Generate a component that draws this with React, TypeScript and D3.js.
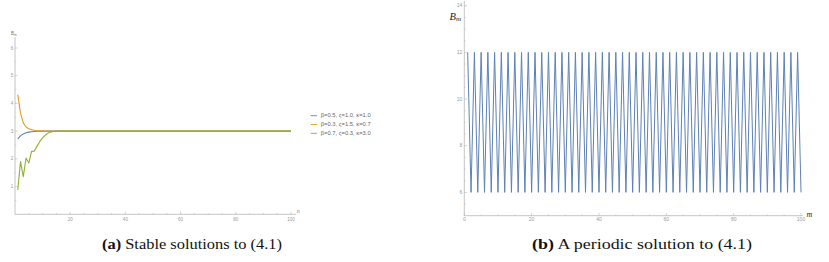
import React from "react";
import * as d3 from "d3";

// ---------- Data: panel (a) ----------
const nA = [1, 2, 3, 4, 5, 6, 7, 8, 9, 10, 11, 12, 13, 14, 15, 16, 18, 20, 100];
const blueA = [2.72, 2.83, 2.9, 2.94, 2.965, 2.98, 2.99, 2.995, 2.998, 3.0, 3.0, 3.0, 3.0, 3.0, 3.0, 3.0, 3.0, 3.0, 3.0];
const orangeA = [4.32, 3.65, 3.3, 3.15, 3.09, 3.055, 3.035, 3.022, 3.014, 3.009, 3.005, 3.003, 3.001, 3.0, 3.0, 3.0, 3.0, 3.0, 3.0];
const greenA = [0.88, 1.9, 1.36, 2.03, 1.85, 2.27, 2.28, 2.46, 2.63, 2.76, 2.86, 2.93, 2.97, 2.99, 3.0, 3.0, 3.0, 3.0, 3.0];
const legendLabels = ["β=0.5, ς=1.0, κ=1.0", "β=0.3, ς=1.5, κ=0.7", "β=0.7, ς=0.3, κ=3.0"];
const xTicksA = [20, 40, 60, 80, 100];
const yTicksA = [1, 2, 3, 4, 5, 6];

// ---------- Data: panel (b) ----------
const valuesB = [
  12, 6, 12, 6, 12, 6, 12, 6, 12, 6, 12, 6, 12, 6, 12, 6, 12, 6, 12, 6,
  12, 6, 12, 6, 12, 6, 12, 6, 12, 6, 12, 6, 12, 6, 12, 6, 12, 6, 12, 6,
  12, 6, 12, 6, 12, 6, 12, 6, 12, 6, 12, 6, 12, 6, 12, 6, 12, 6, 12, 6,
  12, 6, 12, 6, 12, 6, 12, 6, 12, 6, 12, 6, 12, 6, 12, 6, 12, 6, 12, 6,
  12, 6, 12, 6, 12, 6, 12, 6, 12, 6, 12, 6, 12, 6, 12, 6, 12, 6, 12, 6,
];
const xTicksB = [0, 20, 40, 60, 80, 100];
const yTicksB = [6, 8, 10, 12, 14];

const COLORS = ["#5E81B5", "#E19C24", "#8FB032"];
const AXIS = "#b5b5b5";
const LABEL = "#9a9a9a";
const SERIF = "'Liberation Serif', 'Times New Roman', serif";
const SANS = "'Liberation Sans', Arial, sans-serif";

export default function App() {
  // Panel (a) scales
  const xA = d3.scaleLinear().domain([0, 100]).range([15, 291]);
  const yA = d3.scaleLinear().domain([0, 6]).range([214.3, 48]);
  const lineA = (vals: number[]) =>
    d3.line<number>().x((_, i) => xA(nA[i])).y((v) => yA(v)).curve(d3.curveLinear)(vals) || "";
  const seriesA = [blueA, orangeA, greenA];
  const minorXA = d3.range(0, 101, 5).filter((v) => v % 20 !== 0);
  const minorYA = d3.range(0.5, 6.01, 0.5).filter((v) => v % 1 !== 0);

  // Panel (b) scales
  const xB = d3.scaleLinear().domain([0, 100]).range([464.3, 801]);
  const yB = d3.scaleLinear().domain([5, 14]).range([215.7, 5.7]);
  const lineB =
    d3.line<number>().x((_, i) => xB(i + 1)).y((v) => yB(v))(valuesB) || "";
  const minorXB = d3.range(0, 101, 5).filter((v) => v % 20 !== 0);
  const minorYB = d3.range(5.5, 14.01, 0.5).filter((v) => v % 2 !== 0);

  return (
    <svg
      width={829}
      height={262}
      style={{ position: "absolute", left: 0, top: 0, display: "block", background: "#fff" }}
    >
      {/* ---------- Panel (a) ---------- */}
      <g>
        <line x1={xA(0)} x2={296} y1={yA(0)} y2={yA(0)} stroke={AXIS} strokeWidth={0.8} />
        <line x1={xA(0)} x2={xA(0)} y1={yA(0)} y2={37} stroke={AXIS} strokeWidth={0.8} />
        {xTicksA.map((t) => (
          <g key={"xa" + t}>
            <line x1={xA(t)} x2={xA(t)} y1={yA(0)} y2={yA(0) - 2.5} stroke={AXIS} strokeWidth={0.6} />
            <text x={xA(t)} y={220.5} fontSize={4.6} fill={LABEL} textAnchor="middle" fontFamily={SANS}>
              {t}
            </text>
          </g>
        ))}
        {minorXA.map((t) => (
          <line key={"mxa" + t} x1={xA(t)} x2={xA(t)} y1={yA(0)} y2={yA(0) - 1.4} stroke={AXIS} strokeWidth={0.5} />
        ))}
        {yTicksA.map((t) => (
          <g key={"ya" + t}>
            <line x1={xA(0)} x2={xA(0) + 2.5} y1={yA(t)} y2={yA(t)} stroke={AXIS} strokeWidth={0.6} />
            <text x={13.3} y={yA(t) + 1.6} fontSize={4.6} fill={LABEL} textAnchor="end" fontFamily={SANS}>
              {t}
            </text>
          </g>
        ))}
        {minorYA.map((t) => (
          <line key={"mya" + t} x1={xA(0)} x2={xA(0) + 1.4} y1={yA(t)} y2={yA(t)} stroke={AXIS} strokeWidth={0.5} />
        ))}
        <text x={11} y={35} fontSize={4.6} fill="#777" fontFamily={SANS}>
          B<tspan fontSize={3.4} dy={1}>m</tspan>
        </text>
        <text x={297} y={212.5} fontSize={4.6} fill="#777" fontFamily={SANS}>
          n
        </text>
        {seriesA.map((s, i) => (
          <path key={"sa" + i} d={lineA(s)} fill="none" stroke={COLORS[i]} strokeWidth={1.1} strokeLinejoin="round" />
        ))}
        {/* legend */}
        {legendLabels.map((lab, i) => {
          const y = 115.7 + i * 8.8;
          return (
            <g key={"lg" + i}>
              <line x1={310.7} x2={317} y1={y} y2={y} stroke={COLORS[i]} strokeWidth={0.9} />
              <text x={320.7} y={y + 1.7} fontSize={5} fill="#666" fontFamily={SANS} textLength={50} lengthAdjust="spacingAndGlyphs">
                {lab}
              </text>
            </g>
          );
        })}
      </g>

      {/* ---------- Panel (b) ---------- */}
      <g>
        <line x1={xB(0)} x2={802.7} y1={215.7} y2={215.7} stroke={AXIS} strokeWidth={0.8} />
        <line x1={xB(0)} x2={xB(0)} y1={215.7} y2={1} stroke={AXIS} strokeWidth={0.8} />
        {xTicksB.map((t) => (
          <g key={"xb" + t}>
            <line x1={xB(t)} x2={xB(t)} y1={215.7} y2={213} stroke={AXIS} strokeWidth={0.6} />
            <text x={xB(t)} y={221.4} fontSize={5} fill={LABEL} textAnchor="middle" fontFamily={SANS}>
              {t}
            </text>
          </g>
        ))}
        {minorXB.map((t) => (
          <line key={"mxb" + t} x1={xB(t)} x2={xB(t)} y1={215.7} y2={214.2} stroke={AXIS} strokeWidth={0.5} />
        ))}
        {yTicksB.map((t) => (
          <g key={"yb" + t}>
            <line x1={xB(0)} x2={xB(0) + 2.7} y1={yB(t)} y2={yB(t)} stroke={AXIS} strokeWidth={0.6} />
            <text x={462.4} y={yB(t) + 1.7} fontSize={5} fill={LABEL} textAnchor="end" fontFamily={SANS}>
              {t}
            </text>
          </g>
        ))}
        {minorYB.map((t) => (
          <line key={"myb" + t} x1={xB(0)} x2={xB(0) + 1.5} y1={yB(t)} y2={yB(t)} stroke={AXIS} strokeWidth={0.5} />
        ))}
        <text x={449.5} y={19.5} fontSize={10.5} fill="#222" fontStyle="italic" fontFamily={SERIF}>
          B<tspan fontSize={7} dy={1.8}>m</tspan>
        </text>
        <text x={806.5} y={216.5} fontSize={8} fill="#222" fontStyle="italic" fontFamily={SERIF}>
          m
        </text>
        <path d={lineB} fill="none" stroke={COLORS[0]} strokeWidth={1} strokeLinejoin="miter" />
      </g>

      {/* ---------- Captions ---------- */}
      <text x={102} y={249} fontSize={14} fill="#111" fontFamily={SERIF} textLength={180} lengthAdjust="spacingAndGlyphs">
        <tspan fontWeight="bold">(a)</tspan> Stable solutions to (4.1)
      </text>
      <text x={532} y={249} fontSize={14} fill="#111" fontFamily={SERIF} textLength={220} lengthAdjust="spacingAndGlyphs">
        <tspan fontWeight="bold">(b)</tspan> A periodic solution to (4.1)
      </text>
    </svg>
  );
}
